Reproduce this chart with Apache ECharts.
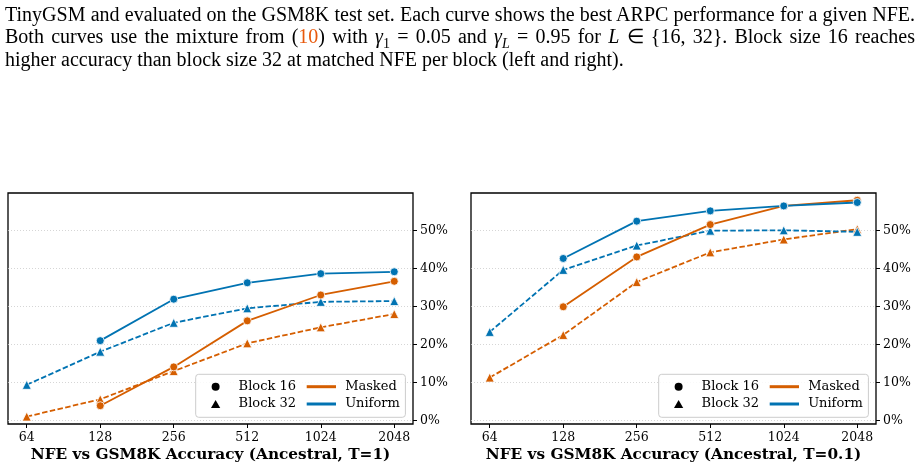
<!DOCTYPE html>
<html>
<head>
<meta charset="utf-8">
<script src="https://cdn.jsdelivr.net/npm/echarts@6/dist/echarts.min.js"></script>
<style>
  html, body { margin: 0; padding: 0; background: #fff; }
  #main { position: absolute; left: 0; top: 0; width: 923px; height: 471px; }
  #caption {
    position: absolute; left: 5px; top: 2.7px; width: 910px; z-index: 2;
    font-family: "Liberation Serif", serif; font-size: 20px; line-height: 22.5px; color: #000;
  }
  #caption .j { text-align: justify; text-align-last: justify; }
  #caption sub { font-size: 70%; line-height: 0; }
  #caption .ref { color: #e8590c; }
</style>
</head>
<body>
<div id="main"></div>
<div id="caption">
  <div class="j">TinyGSM and evaluated on the GSM8K test set. Each curve shows the best ARPC performance for a given NFE.</div>
  <div class="j">Both curves use the mixture from (<span class="ref">10</span>) with <i>γ</i><sub>1</sub> = 0.05 and <i>γ<sub>L</sub></i> = 0.95 for <i>L</i> ∈ {16, 32}. Block size 16 reaches</div>
  <div>higher accuracy than block size 32 at matched NFE per block (left and right).</div>
</div>
<script>
  // x positions are log2 steps of NFE
  const nfeLabels = ["64", "128", "256", "512", "1024", "2048"]
  const xIdx = [0, 1, 2, 3, 4, 5]
  const yTicks = [0, 10, 20, 30, 40, 50]

  // Ancestral, T=1 (accuracy in %)
  const t1MaskedB16 = [null, 3.9, 14.1, 26.2, 33.0, 36.6]
  const t1UniformB16 = [null, 21.0, 31.9, 36.2, 38.6, 39.1]
  const t1MaskedB32 = [1.05, 5.6, 13.0, 20.3, 24.5, 28.0]
  const t1UniformB32 = [9.4, 18.1, 25.7, 29.5, 31.2, 31.4]

  // Ancestral, T=0.1
  const t01MaskedB16 = [null, 29.9, 43.0, 51.5, 56.4, 57.9]
  const t01UniformB16 = [null, 42.6, 52.4, 55.1, 56.4, 57.3]
  const t01MaskedB32 = [11.3, 22.5, 36.4, 44.2, 47.6, 50.3]
  const t01UniformB32 = [23.3, 39.6, 46.0, 49.9, 50.0, 49.6]

  const titles = ["NFE vs GSM8K Accuracy (Ancestral, T=1)", "NFE vs GSM8K Accuracy (Ancestral, T=0.1)"]

  const ORANGE = "#d55e00"
  const BLUE = "#0173b2"
  const FONT = "DejaVu Serif"
  const gridLefts = [8, 471]
  const TRI = "path://M5,0L10,8.66L0,8.66Z"

  function pairs (arr) {
    let out = []
    arr.forEach((v, i) => { if (v !== null) out.push([xIdx[i], v]) })
    return out
  }

  function curve (data, color, block, gi) {
    return {
      type: "line",
      xAxisIndex: gi,
      yAxisIndex: gi,
      data: pairs(data),
      symbol: block === 16 ? "circle" : "triangle",
      symbolSize: block === 16 ? 8 : 9,
      itemStyle: { color: color, borderColor: "#fff", borderWidth: 0.8 },
      lineStyle: { color: color, width: 1.8, type: block === 16 ? "solid" : [5.5, 2.4] },
      emphasis: { disabled: true },
      z: block === 16 ? 3 : 2
    }
  }

  let grids = [], xAxes = [], yAxes = [], legends = [], frames = []
  gridLefts.forEach((left, gi) => {
    grids.push({ left: left, top: 193, width: 405, height: 231, show: true, borderColor: "#000", borderWidth: 1.3 })
    xAxes.push({
      gridIndex: gi, type: "value", min: -0.255, max: 5.255,
      axisLine: { show: false, onZero: false },
      axisTick: { customValues: xIdx, length: 4, lineStyle: { color: "#000", width: 1 } },
      axisLabel: { customValues: xIdx, formatter: v => nfeLabels[v], fontFamily: FONT, fontSize: 12.5, color: "#000", margin: 7 },
      splitLine: { show: false },
      name: titles[gi], nameLocation: "middle", nameGap: 24,
      nameTextStyle: { fontFamily: FONT, fontWeight: "bold", fontSize: 15.3, color: "#000" }
    })
    yAxes.push({
      gridIndex: gi, type: "value", position: "right", min: -0.9, max: 59.8,
      axisLine: { show: false, onZero: false },
      axisTick: { show: true, customValues: yTicks, length: 4, lineStyle: { color: "#000", width: 1 } },
      axisLabel: { customValues: yTicks, formatter: v => v + "%", fontFamily: FONT, fontSize: 12.5, color: "#000", margin: 7 },
      splitLine: { show: true, lineStyle: { color: "#cccccc", width: 0.8, type: [1, 2] } }
    })
    let boxLeft = left + 187.7
    frames.push({
      type: "rect", z: 3,
      shape: { x: boxLeft, y: 374.3, width: 209.7, height: 43, r: 3 },
      style: { fill: "rgba(255,255,255,0.85)", stroke: "#cccccc", lineWidth: 1 }
    })
    legends.push({
      orient: "vertical", left: boxLeft + 15.3, top: 380.2, padding: 0,
      itemWidth: 36, itemHeight: 8, itemGap: 4.3, z: 5,
      selectedMode: false, symbolKeepAspect: true,
      data: [{ name: "Block 16", icon: "circle" }, { name: "Block 32", icon: TRI }],
      textStyle: { fontFamily: FONT, fontSize: 13, color: "#000" }
    })
    legends.push({
      orient: "vertical", left: boxLeft + 111, top: 380.2, padding: 0,
      itemWidth: 29.3, itemHeight: 3, itemGap: 4.3, z: 5,
      selectedMode: false,
      data: [{ name: "Masked", icon: "rect" }, { name: "Uniform", icon: "rect" }],
      formatter: " {name}",
      textStyle: { fontFamily: FONT, fontSize: 13, color: "#000" }
    })
  })

  let series = [
    curve(t1MaskedB32, ORANGE, 32, 0),
    curve(t1UniformB32, BLUE, 32, 0),
    curve(t1MaskedB16, ORANGE, 16, 0),
    curve(t1UniformB16, BLUE, 16, 0),
    curve(t01MaskedB32, ORANGE, 32, 1),
    curve(t01UniformB32, BLUE, 32, 1),
    curve(t01MaskedB16, ORANGE, 16, 1),
    curve(t01UniformB16, BLUE, 16, 1),
    // legend-only entries
    { name: "Block 16", type: "line", data: [], symbol: "circle", itemStyle: { color: "#000" }, lineStyle: { color: "#000" } },
    { name: "Block 32", type: "line", data: [], symbol: "triangle", itemStyle: { color: "#000" }, lineStyle: { color: "#000" } },
    { name: "Masked", type: "line", data: [], itemStyle: { color: ORANGE }, lineStyle: { color: ORANGE } },
    { name: "Uniform", type: "line", data: [], itemStyle: { color: BLUE }, lineStyle: { color: BLUE } }
  ]

  let chart = echarts.init(document.getElementById("main"))
  chart.setOption({
    animation: false,
    backgroundColor: "#fff",
    grid: grids,
    xAxis: xAxes,
    yAxis: yAxes,
    legend: legends,
    graphic: frames,
    series: series
  })
</script>
</body>
</html>
